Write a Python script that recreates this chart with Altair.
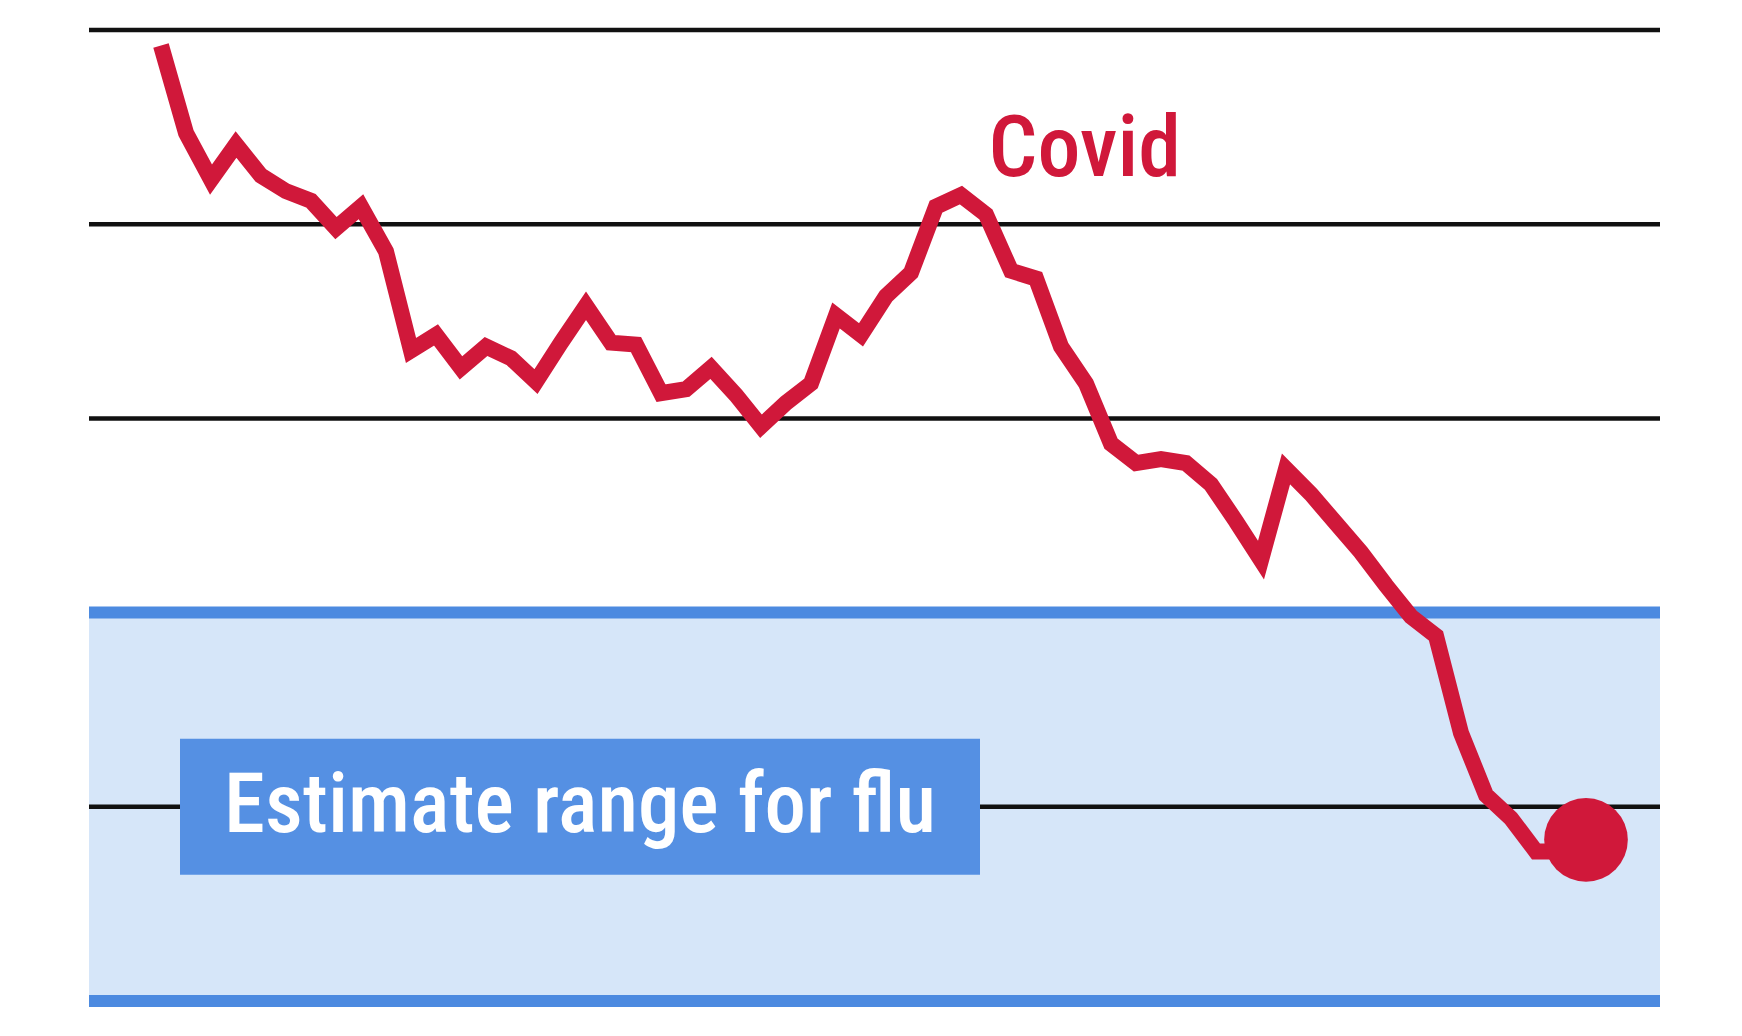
import altair as alt
import pandas as pd

# ---- data (y in grid units: 0 = bottom blue line, 5 = top line)
week = list(range(58))
covid = [4.92, 4.47, 4.23, 4.41, 4.25, 4.17, 4.12, 3.98, 4.09, 3.86,
         3.35, 3.43, 3.26, 3.37, 3.31, 3.19, 3.39, 3.58, 3.39, 3.38,
         3.13, 3.15, 3.26, 3.12, 2.96, 3.08, 3.18, 3.53, 3.43, 3.63,
         3.75, 4.09, 4.15, 4.05, 3.76, 3.72, 3.37, 3.18, 2.87, 2.77,
         2.79, 2.77, 2.66, 2.47, 2.27, 2.74, 2.61, 2.46, 2.31, 2.14,
         1.98, 1.88, 1.38, 1.06, 0.94, 0.77, 0.77, 0.83]

black_grid = [1, 3, 4, 5]
flu_low, flu_high = 0, 2
flu_label = "Estimate range for flu"
flu_box_x = [0.76, 32.76]
flu_box_y = [0.65, 1.35]
covid_label = "Covid"
covid_label_pos = (33.1, 4.25)

X_DOMAIN = [-2.88, 59.96]
Y_DOMAIN = [0, 5]

RED = "#d0183a"
BLUE_LINE = "#4c8ae0"
BLUE_FILL = "#d6e6f9"
BOX = "#5590e3"

df = pd.DataFrame({"week": week, "value": covid})
xs = alt.Scale(domain=X_DOMAIN, nice=False, zero=False)
ys = alt.Scale(domain=Y_DOMAIN, nice=False, zero=False)

band = alt.Chart(pd.DataFrame({"lo": [flu_low], "hi": [flu_high]})).mark_rect(
    color=BLUE_FILL).encode(y=alt.Y("lo:Q", scale=ys, axis=None), y2="hi:Q")

blue_rules = alt.Chart(pd.DataFrame({"y": [flu_low, flu_high]})).mark_rule(
    color=BLUE_LINE, strokeWidth=12).encode(y=alt.Y("y:Q", scale=ys, axis=None))

black_rules = alt.Chart(pd.DataFrame({"y": black_grid})).mark_rule(
    color="#111111", strokeWidth=4.5).encode(y=alt.Y("y:Q", scale=ys, axis=None))

line = alt.Chart(df).mark_line(color=RED, strokeWidth=16, strokeJoin="miter").encode(
    x=alt.X("week:Q", scale=xs, axis=None),
    y=alt.Y("value:Q", scale=ys, axis=None))

dot = alt.Chart(df.tail(1)).mark_circle(color=RED, size=7000, opacity=1).encode(
    x=alt.X("week:Q", scale=xs, axis=None),
    y=alt.Y("value:Q", scale=ys, axis=None))

box = alt.Chart(pd.DataFrame({"x0": [flu_box_x[0]], "x1": [flu_box_x[1]],
                              "y0": [flu_box_y[0]], "y1": [flu_box_y[1]]})).mark_rect(
    color=BOX).encode(x=alt.X("x0:Q", scale=xs, axis=None), x2="x1:Q",
                      y=alt.Y("y0:Q", scale=ys, axis=None), y2="y1:Q")

FONT = "Roboto Condensed, Liberation Sans Narrow, Roboto, sans-serif"

box_text = alt.Chart(pd.DataFrame({"x": [(flu_box_x[0] + flu_box_x[1]) / 2],
                                   "y": [(flu_box_y[0] + flu_box_y[1]) / 2],
                                   "t": [flu_label]})).mark_text(
    color="white", font=FONT, fontSize=83, fontWeight=500,
    align="center", baseline="middle", dy=0).encode(
    x=alt.X("x:Q", scale=xs, axis=None), y=alt.Y("y:Q", scale=ys, axis=None), text="t:N")

covid_text = alt.Chart(pd.DataFrame({"x": [covid_label_pos[0]], "y": [covid_label_pos[1]],
                                     "t": [covid_label]})).mark_text(
    color=RED, font=FONT, fontSize=86, fontWeight=500,
    align="left", baseline="alphabetic").encode(
    x=alt.X("x:Q", scale=xs, axis=None), y=alt.Y("y:Q", scale=ys, axis=None), text="t:N")

chart = alt.layer(band, blue_rules, black_rules, line, box, box_text, covid_text, dot).properties(
    width=1571, height=971,
    autosize=alt.AutoSizeParams(type="none"),
    padding={"left": 81, "top": 22, "right": 10, "bottom": 10},
    background="white",
).configure_view(stroke=None)

chart.save("out.html", embed_options={"renderer": "svg", "actions": False})
